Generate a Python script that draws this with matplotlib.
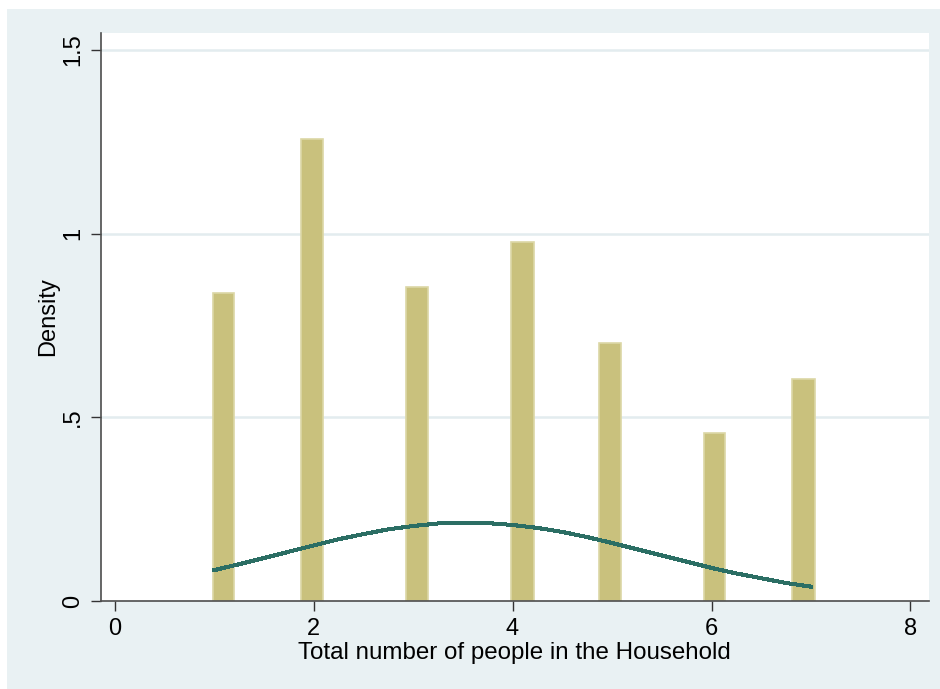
import matplotlib
matplotlib.use("Agg")
import matplotlib.pyplot as plt
from matplotlib.patches import Rectangle

# Histogram bars (left edge, width, density)
bar_left = [0.99, 1.875, 2.93, 3.985, 4.87, 5.925, 6.81]
bar_width = [0.215, 0.218, 0.218, 0.235, 0.218, 0.21, 0.235]
bar_height = [0.838, 1.258, 0.856, 0.978, 0.701, 0.456, 0.603]

# Normal density overlay
curve_x = [1.0, 1.25, 1.5, 1.75, 2.0, 2.25, 2.5, 2.75, 3.0, 3.25, 3.5, 3.75,
           4.0, 4.25, 4.5, 4.75, 5.0, 5.25, 5.5, 5.75, 6.0, 6.25, 6.5, 6.75, 7.0]
curve_y = [0.084, 0.100, 0.117, 0.134, 0.151, 0.168, 0.182, 0.195, 0.204, 0.211,
           0.213, 0.212, 0.207, 0.199, 0.188, 0.174, 0.158, 0.141, 0.124, 0.107,
           0.090, 0.075, 0.062, 0.049, 0.039]

xticks = [0, 2, 4, 6, 8]
yticks = [0, 0.5, 1, 1.5]
ytick_labels = ["0", ".5", "1", "1.5"]

BG = "#e9f1f3"
W, H = 940, 689
fig = plt.figure(figsize=(W / 100, H / 100), dpi=100, facecolor="white")
fig.patches.append(Rectangle((7 / W, 0), 1 - 7 / W, 1 - 9 / H, transform=fig.transFigure,
                             facecolor=BG, edgecolor="none", zorder=-10))

ax = fig.add_axes([100.7 / W, 1 - 601 / H, (929 - 100.7) / W, (601 - 33) / H])
ax.set_facecolor("white")

ax.bar(bar_left, bar_height, width=bar_width, align="edge", color="#c9c17d",
       edgecolor="#dcd7a6", linewidth=1.2, zorder=2)
ax.plot(curve_x, curve_y, color="#2b6e64", linewidth=2.2, antialiased=False, zorder=3)

ax.set_xlim(-0.139, 8.186)
ax.set_ylim(0, 1.546)

for yv in [0.5, 1.0, 1.5]:
    ax.axhline(yv, color="#e3ecef", linewidth=1.8, zorder=1)

for s in ["top", "right"]:
    ax.spines[s].set_visible(False)
for s in ["left", "bottom"]:
    ax.spines[s].set_color("#4d4d4d")
    ax.spines[s].set_linewidth(1.2)

font = "Liberation Sans"
ax.set_xticks(xticks)
ax.set_xticklabels([str(v) for v in xticks], fontsize=17, family=font)
ax.set_yticks(yticks)
ax.set_yticklabels(ytick_labels, fontsize=17, family=font, rotation=90, va="center")
ax.tick_params(axis="both", length=7, width=1, color="#333333", pad=5)

ax.set_xlabel("Total number of people in the Household", fontsize=17.4, family=font, labelpad=2)
ax.set_ylabel("Density", fontsize=17, family=font, labelpad=2)

fig.savefig("out.png", dpi=100, facecolor="white")
